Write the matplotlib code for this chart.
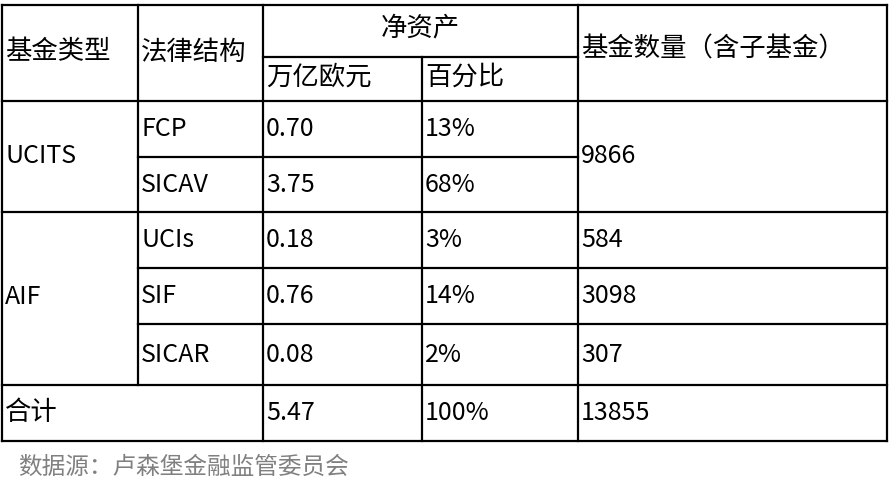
import matplotlib
matplotlib.use("Agg")
import matplotlib.pyplot as plt

plt.rcParams['font.family'] = ['Noto Sans CJK SC', 'DejaVu Sans']

fund_types = ["UCITS", "AIF"]
structures = ["FCP", "SICAV", "UCIs", "SIF", "SICAR"]
net_assets = ["0.70", "3.75", "0.18", "0.76", "0.08"]
shares = ["13%", "68%", "3%", "14%", "2%"]
fund_counts = ["9866", "584", "3098", "307"]
total_row = ["合计", "5.47", "100%", "13855"]
headers = ["基金类型", "法律结构", "净资产", "万亿欧元", "百分比", "基金数量（含子基金）"]
source = "数据源：卢森堡金融监管委员会"

fig = plt.figure(figsize=(8.9, 4.97), dpi=100)
ax = fig.add_axes([0, 0, 1, 1])
ax.set_xlim(0, 890); ax.set_ylim(497, 0); ax.axis('off')

X = [2, 138, 263, 422, 578, 887]
R = [101, 157, 212, 268, 324, 385, 441]
lw = 1.6
def h(y, x0, x1): ax.plot([x0, x1], [y, y], color='black', lw=lw, solid_capstyle='projecting')
def v(x, y0, y1): ax.plot([x, x], [y0, y1], color='black', lw=lw, solid_capstyle='projecting')

h(5, 2, 887); h(57, 263, 578); h(101, 2, 887); h(157, 138, 578)
h(212, 2, 887); h(268, 138, 887); h(324, 138, 887); h(385, 2, 887); h(441, 2, 887)
v(2, 5, 441); v(138, 5, 385); v(263, 5, 441); v(422, 57, 441); v(578, 5, 441); v(887, 5, 441)

hf = dict(fontsize=19, fontweight='medium', va='center')
df = dict(fontsize=18, va='center')
ax.text(X[0]+3, 52, headers[0], **hf)
ax.text(X[1]+3, 52, headers[1], **hf)
ax.text((263+578)/2, 28, headers[2], ha='center', **hf)
ax.text(X[2]+3, 77, headers[3], **hf)
ax.text(X[3]+3, 77, headers[4], **hf)
ax.text(X[4]+3, 49, headers[5], **hf)

ax.text(X[0]+3, 156, fund_types[0], **df)
ax.text(X[0]+3, 297, fund_types[1], **df)
for i in range(5):
    yc = (R[i] + R[i+1]) / 2
    ax.text(X[1]+3, yc, structures[i], **df)
    ax.text(X[2]+3, yc, net_assets[i], **df)
    ax.text(X[3]+3, yc, shares[i], **df)
ax.text(X[4]+3, 156, fund_counts[0], **df)
for j, i in enumerate([2, 3, 4]):
    ax.text(X[4]+3, (R[i]+R[i+1])/2, fund_counts[j+1], **df)
yt = (385 + 441) / 2
ax.text(X[0]+3, yt, total_row[0], fontsize=19, va='center')
ax.text(X[2]+3, yt, total_row[1], **df)
ax.text(X[3]+3, yt, total_row[2], **df)
ax.text(X[4]+3, yt, total_row[3], **df)
ax.text(18, 467, source, fontsize=17, color='#808080', va='center')

fig.savefig("out.png", dpi=100)
